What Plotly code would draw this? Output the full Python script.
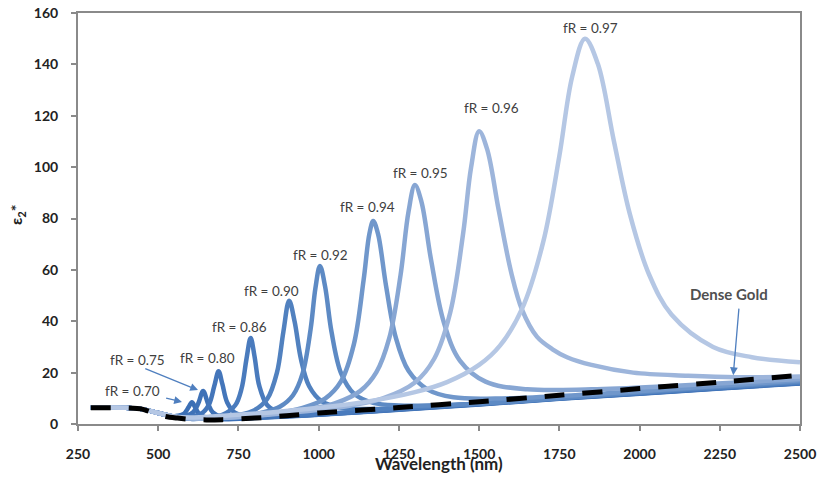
import plotly.graph_objects as go

# ---- data ----
fr_labels = ["fR = 0.70", "fR = 0.75", "fR = 0.80", "fR = 0.86", "fR = 0.90",
             "fR = 0.92", "fR = 0.94", "fR = 0.95", "fR = 0.96", "fR = 0.97"]

w_070 = [290, 350, 400, 450, 500, 540, 560, 580, 595, 605, 615, 630, 660, 700, 800, 1000, 1250, 1500, 1750, 2000, 2250, 2500]
v_070 = [6.3, 6.4, 6.3, 5.8, 4.3, 3.0, 3.2, 4.0, 6.6, 8.5, 6.5, 3.6, 2.3, 1.9, 2.3, 3.6, 5.5, 7.6, 9.8, 11.8, 13.8, 15.8]

w_075 = [290, 350, 400, 450, 500, 550, 590, 610, 625, 640, 655, 670, 700, 750, 800, 1000, 1250, 1500, 1750, 2000, 2250, 2500]
v_075 = [6.3, 6.4, 6.3, 5.8, 4.3, 3.0, 3.3, 4.7, 8.1, 12.8, 8.0, 4.5, 2.6, 2.2, 2.4, 3.7, 5.6, 7.7, 9.9, 11.9, 13.9, 15.9]

w_080 = [290, 350, 400, 450, 500, 550, 600, 640, 660, 675, 688, 700, 715, 740, 780, 850, 1000, 1250, 1500, 1750, 2000, 2250, 2500]
v_080 = [6.3, 6.4, 6.3, 5.8, 4.3, 2.8, 2.9, 4.6, 8.1, 14.9, 20.5, 15.5, 8.4, 4.3, 2.95, 2.8, 3.7, 5.7, 7.8, 10.0, 12.0, 14.0, 16.0]

w_086 = [290, 350, 400, 450, 500, 550, 600, 650, 700, 740, 760, 775, 788, 800, 815, 840, 880, 950, 1100, 1250, 1500, 1750, 2000, 2250, 2500]
v_086 = [6.3, 6.4, 6.3, 5.8, 4.3, 2.8, 2.0, 2.6, 3.6, 7.3, 13.9, 25.3, 33.5, 26.4, 14.8, 7.3, 4.5, 3.85, 4.6, 5.8, 7.9, 10.1, 12.1, 14.1, 16.1]

w_090 = [290, 350, 400, 450, 500, 550, 600, 650, 700, 750, 800, 840, 870, 890, 908, 925, 945, 970, 1010, 1070, 1150, 1300, 1500, 1750, 2000, 2250, 2500]
v_090 = [6.3, 6.4, 6.3, 5.8, 4.3, 2.8, 2.0, 2.3, 2.7, 3.5, 5.4, 9.8, 20.0, 35.9, 48.0, 39.9, 25.1, 14.8, 8.8, 6.3, 5.8, 6.5, 8.0, 10.2, 12.2, 14.3, 16.3]

w_092 = [290, 350, 400, 450, 500, 550, 600, 700, 780, 830, 880, 920, 950, 975, 990, 1004, 1020, 1040, 1070, 1110, 1170, 1250, 1400, 1600, 1800, 2000, 2250, 2500]
v_092 = [6.3, 6.4, 6.3, 5.8, 4.3, 2.8, 2.0, 2.5, 3.4, 4.6, 6.8, 11.2, 19.7, 37.0, 53.0, 61.5, 53.6, 35.9, 19.7, 11.8, 8.2, 7.2, 7.4, 8.7, 10.5, 12.4, 14.5, 16.5]

w_094 = [290, 350, 400, 450, 500, 550, 600, 700, 850, 950, 1020, 1070, 1110, 1140, 1158, 1170, 1185, 1210, 1240, 1280, 1340, 1420, 1550, 1800, 2100, 2500]
v_094 = [6.3, 6.4, 6.3, 5.8, 4.3, 2.8, 2.1, 2.4, 4.0, 6.3, 9.9, 16.7, 31.2, 56.0, 74.0, 79.0, 74.0, 53.8, 33.8, 20.7, 13.4, 10.4, 9.9, 11.2, 13.6, 17.0]

w_095 = [290, 350, 400, 450, 500, 550, 600, 700, 850, 950, 1050, 1130, 1180, 1220, 1255, 1280, 1300, 1320, 1350, 1390, 1440, 1520, 1650, 1850, 2100, 2500]
v_095 = [6.3, 6.4, 6.3, 5.8, 4.3, 2.8, 2.1, 2.3, 3.9, 5.4, 8.0, 12.9, 20.2, 33.4, 57.8, 82.7, 93.0, 86.7, 64.1, 39.6, 24.7, 16.5, 13.5, 13.5, 14.8, 17.5]

w_096 = [290, 350, 400, 450, 500, 550, 600, 700, 850, 1000, 1100, 1200, 1300, 1360, 1410, 1450, 1475, 1500, 1525, 1560, 1600, 1634, 1680, 1730, 1774, 1850, 1980, 2150, 2300, 2500]
v_096 = [6.3, 6.4, 6.3, 5.8, 4.3, 2.8, 2.2, 2.4, 3.7, 5.5, 7.2, 10.0, 16.2, 25.4, 43.4, 74.0, 99.9, 114.0, 107.0, 84.0, 59.0, 44.4, 34.0, 29.0, 26.0, 23.0, 20.0, 18.8, 18.2, 18.5]

w_097 = [290, 350, 400, 450, 500, 550, 600, 700, 850, 1000, 1150, 1300, 1400, 1500, 1565, 1634, 1700, 1750, 1790, 1830, 1870, 1920, 1970, 2030, 2100, 2229, 2350, 2500]
v_097 = [6.3, 6.4, 6.3, 5.8, 4.3, 2.9, 2.5, 3.2, 4.5, 6.3, 8.7, 12.4, 16.3, 23.0, 30.5, 44.9, 71.0, 104.3, 135.2, 150.0, 140.2, 110.2, 81.6, 58.1, 42.5, 30.0, 26.0, 24.0]

gold_w = [290, 350, 400, 450, 480, 520, 560, 600, 650, 700, 800, 900, 1000, 1250, 1500, 1750, 2000, 2250, 2500]
gold_v = [6.3, 6.3, 6.3, 5.8, 4.5, 3.0, 2.3, 1.8, 1.6, 1.7, 2.3, 3.2, 4.3, 6.4, 8.7, 11.2, 13.8, 16.3, 19.0]

series_w = [w_070, w_075, w_080, w_086, w_090, w_092, w_094, w_095, w_096, w_097]
series_v = [v_070, v_075, v_080, v_086, v_090, v_092, v_094, v_095, v_096, v_097]

# label positions (wavelength, value)
label_w = [421, 434, 655, 752, 852, 1007, 1151, 1316, 1540, 1846]
label_v = [12.8, 24.9, 25.7, 37.7, 51.8, 65.8, 84.4, 97.7, 123, 154]

colors = ["#3b6fb5", "#3f72b7", "#4476ba", "#4a7bbd", "#5181bf", "#5d8ac4",
          "#7097cb", "#87a6d3", "#9db5db", "#b5c7e4"]

xticks = [250, 500, 750, 1000, 1250, 1500, 1750, 2000, 2250, 2500]
yticks = [0, 20, 40, 60, 80, 100, 120, 140, 160]

fig = go.Figure()
for w, v, c, name in zip(series_w, series_v, colors, fr_labels):
    fig.add_trace(go.Scatter(x=w, y=v, mode="lines", name=name,
                             line=dict(color=c, width=4.5, shape="spline", smoothing=1.0)))

fig.add_trace(go.Scatter(x=gold_w, y=gold_v, mode="lines", name="Dense Gold",
                         line=dict(color="black", width=5, dash="20px,18px", shape="spline", smoothing=0.8)))

lab_font = dict(family="Lato", size=13.5, color="#404040")
for t, lx, ly in zip(fr_labels, label_w, label_v):
    fig.add_annotation(x=lx, y=ly, text=t, showarrow=False, font=lab_font)
fig.add_annotation(x=2279, y=50.6, text="Dense Gold", showarrow=False,
                   font=dict(family="Lato", size=15, color="#505050", weight="bold"))

arrow_col = "#4f7fbf"
# arrows (head, tail)
for hx, hy, tx, ty in [(574, 8.6, 520, 10.2), (624, 13.2, 455, 21.8), (2292, 19.0, 2310, 45.5)]:
    fig.add_annotation(x=hx, y=hy, ax=tx, ay=ty, xref="x", yref="y", axref="x", ayref="y",
                       text="", showarrow=True, arrowhead=2, arrowsize=1.2,
                       arrowwidth=1.3, arrowcolor=arrow_col)

fig.add_annotation(x=0.5, y=-0.095, xref="paper", yref="paper", xanchor="center", yanchor="middle",
                   text="<b>Wavelength (nm)</b>",
                   showarrow=False, font=dict(family="Lato", size=17, color="#222"))
fig.add_annotation(x=-0.085, y=0.51, xref="paper", yref="paper", xanchor="center", yanchor="middle",
                   text="<b>ε<sub>2</sub>*</b>",
                   textangle=-90, showarrow=False, font=dict(family="Lato", size=16, color="#222"))

axis_common = dict(showline=True, linecolor="#8a8a8a", linewidth=2, mirror=True,
                   ticks="outside", ticklen=5, tickcolor="#8a8a8a", tickwidth=1.5,
                   showgrid=False, zeroline=False, automargin=False,
                   tickfont=dict(family="Lato", size=14, color="#222", weight="bold"))

fig.update_layout(
    width=818, height=478,
    margin=dict(l=78, r=18, t=13, b=54, autoexpand=False),
    paper_bgcolor="white", plot_bgcolor="white",
    showlegend=False,
    xaxis=dict(range=[250, 2500], tickvals=xticks, ticklabelstandoff=11, **axis_common),
    yaxis=dict(range=[0, 160], tickvals=yticks, ticklabelstandoff=10, **axis_common),
)

fig.write_html("out.html", config={"displayModeBar": False},
               post_script="document.body.style.margin='0';")
